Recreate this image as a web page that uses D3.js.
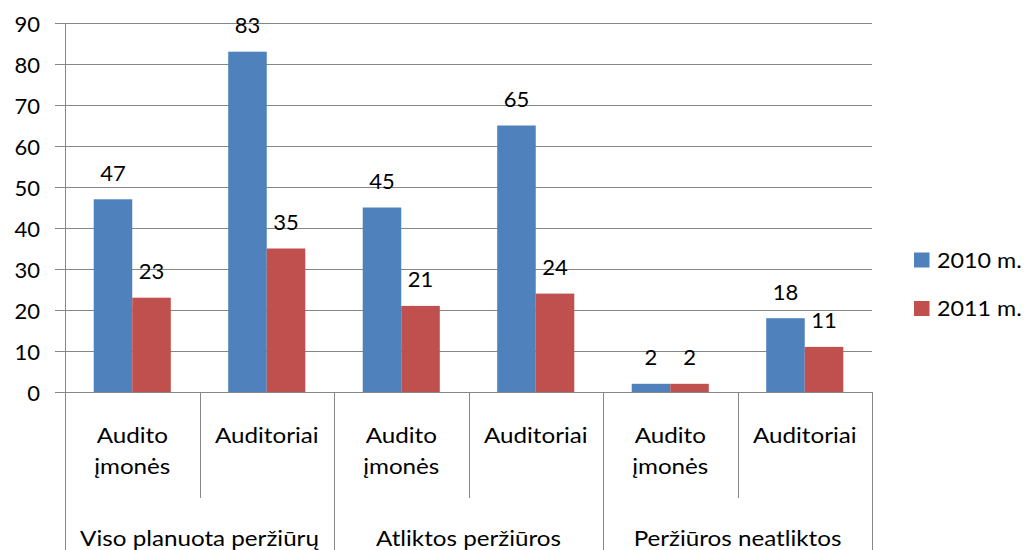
<!DOCTYPE html>
<html>
<head>
<meta charset="utf-8">
<script src="https://cdn.jsdelivr.net/npm/d3@7"></script>
<style>
  html, body { margin: 0; padding: 0; background: #fff; }
  svg { display: block; }
  text { font-family: Lato, "Open Sans", sans-serif; fill: #000; }
</style>
</head>
<body>
<svg id="chart" width="1025" height="550"></svg>
<script>
// Review counts by category, two years
const groups = ["Viso planuota peržiūrų", "Atliktos peržiūros", "Peržiūros neatliktos"];
const subcategories = [["Audito", "įmonės"], ["Auditoriai"]];
const seriesNames = ["2010 m.", "2011 m."];
const values2010 = [47, 83, 45, 65, 2, 18];
const values2011 = [23, 35, 21, 24, 2, 11];
const yTicks = [0, 10, 20, 30, 40, 50, 60, 70, 80, 90];
const colors = ["#4F81BD", "#C0504D"];

const svg = d3.select("#chart");
const plotLeft = 65, plotRight = 872, plotTop = 23, plotBottom = 392;
const gridColor = "#868686";
const fontSize = 22;
const wordStretch = 1.1; // widen word labels a little

// Flat list of the six category slots (group x subcategory)
const slots = [];
groups.forEach((g, gi) => subcategories.forEach((s, si) => slots.push({ gi, si, lines: s })));
const seriesValues = [values2010, values2011];

const x = d3.scaleBand().domain(d3.range(slots.length)).range([plotLeft, plotRight]).padding(0);
const xs = d3.scaleBand().domain(d3.range(seriesNames.length))
  .range([0, x.bandwidth()]).paddingInner(0).paddingOuter(0.745);
const y = d3.scaleLinear().domain([0, 90]).range([plotBottom, plotTop]);

// Horizontal gridlines with outward tick marks
svg.append("g").selectAll("line").data(yTicks).join("line")
  .attr("x1", plotLeft - 10).attr("x2", plotRight)
  .attr("y1", d => Math.round(y(d)) + 0.5).attr("y2", d => Math.round(y(d)) + 0.5)
  .attr("stroke", gridColor).attr("stroke-width", 1);

// Value axis line
svg.append("line")
  .attr("x1", plotLeft + 0.5).attr("x2", plotLeft + 0.5).attr("y1", plotTop).attr("y2", plotBottom)
  .attr("stroke", gridColor);

// Value axis labels
svg.append("g").selectAll("text").data(yTicks).join("text")
  .attr("x", 40).attr("y", d => y(d))
  .attr("text-anchor", "end").attr("dominant-baseline", "central")
  .attr("font-size", fontSize).text(d => d);

// Bars and their value labels
seriesValues.forEach((vals, k) => {
  svg.append("g").selectAll("rect").data(vals).join("rect")
    .attr("x", (d, i) => x(i) + xs(k))
    .attr("width", xs.bandwidth())
    .attr("y", d => y(d))
    .attr("height", d => y(0) - y(d))
    .attr("fill", colors[k]);
  svg.append("g").selectAll("text").data(vals).join("text")
    .attr("x", (d, i) => x(i) + xs(k) + xs.bandwidth() / 2)
    .attr("y", d => y(d) - 18.5)
    .attr("text-anchor", "middle").attr("font-size", fontSize)
    .text(d => d);
});

// Category axis dividers: short ones between subcategories, long ones between groups
const dividers = d3.range(slots.length + 1).map(i => ({
  x: i === slots.length ? plotRight : x(i),
  long: i % subcategories.length === 0
}));
svg.append("g").selectAll("line").data(dividers).join("line")
  .attr("x1", d => Math.round(d.x) + 0.5).attr("x2", d => Math.round(d.x) + 0.5)
  .attr("y1", plotBottom).attr("y2", d => d.long ? 550 : 498)
  .attr("stroke", gridColor);

// Subcategory labels
const sub = svg.append("g").selectAll("g").data(slots).join("g")
  .attr("transform", (d, i) => `translate(${x(i) + x.bandwidth() / 2},0) scale(${wordStretch},1)`)
  .append("text")
  .attr("text-anchor", "middle").attr("font-size", fontSize);
sub.each(function(d) {
  const t = d3.select(this);
  d.lines.forEach((ln, j) => {
    t.append("tspan").attr("x", 0).attr("y", 443 + j * 31).text(ln);
  });
});

// Group labels
svg.append("g").selectAll("g").data(groups).join("g")
  .attr("transform", (d, gi) => `translate(${x(gi * 2) + x.bandwidth()},546) scale(${wordStretch},1)`)
  .append("text")
  .attr("text-anchor", "middle").attr("font-size", fontSize)
  .text(d => d);

// Legend
const legend = svg.append("g").selectAll("g").data(seriesNames).join("g")
  .attr("transform", (d, k) => `translate(914, ${252.5 + k * 48.5})`);
legend.append("rect").attr("width", 15.5).attr("height", 15).attr("fill", (d, k) => colors[k]);
legend.append("g").attr("transform", `translate(23,15) scale(1.06,1)`)
  .append("text").attr("font-size", fontSize).text(d => d);
</script>
</body>
</html>
